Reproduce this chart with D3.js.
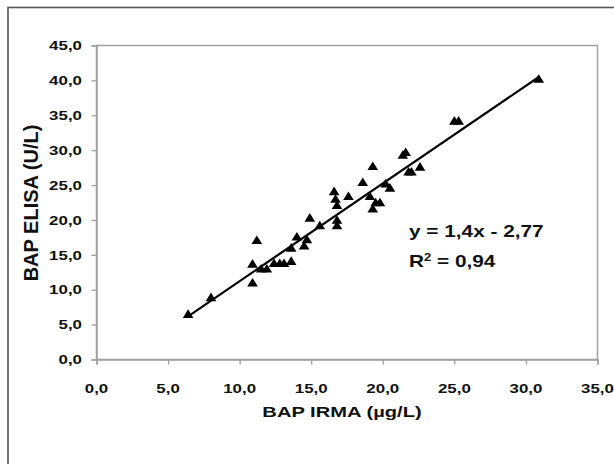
<!DOCTYPE html>
<html>
<head>
<meta charset="utf-8">
<script src="https://cdn.jsdelivr.net/npm/d3@7"></script>
<style>
  body { margin: 0; background: #fff; }
  svg { display: block; }
  text { font-family: "Liberation Sans", Arial, sans-serif; font-weight: bold; fill: #111; }
</style>
</head>
<body>
<svg width="614" height="464"></svg>
<script>
(function (d3) {
    'use strict';

    // BAP IRMA (x) vs BAP ELISA (y)
    const irma  = [6.4, 8.0, 10.9, 10.9, 11.2, 11.5, 11.9, 12.4, 12.8, 13.1,
                   13.6, 13.6, 14.0, 14.5, 14.7, 14.9, 15.6, 16.6, 16.7, 16.8,
                   16.8, 16.8, 17.6, 18.6, 19.1, 19.3, 19.3, 19.5, 19.8, 20.2,
                   20.5, 21.4, 21.6, 21.8, 22.0, 22.6, 25.0, 25.3, 30.9];
    const elisa = [6.5, 8.9, 11.0, 13.7, 17.1, 13.0, 13.0, 13.8, 13.8, 13.8,
                   14.1, 16.0, 17.6, 16.3, 17.2, 20.3, 19.2, 24.1, 23.0, 22.1,
                   19.2, 20.0, 23.4, 25.4, 23.4, 27.7, 21.6, 22.5, 22.5, 25.2,
                   24.6, 29.3, 29.7, 26.9, 26.9, 27.6, 34.2, 34.2, 40.2];
    const xTicks = [0, 5, 10, 15, 20, 25, 30, 35];
    const yTicks = [0, 5, 10, 15, 20, 25, 30, 35, 40, 45];
    const fit = { slope: 1.4, intercept: -2.77 };
    const eqLines = ['y = 1,4x - 2,77', 'R2 = 0,94'];

    const svg = d3.select('svg');
    const width = +svg.attr('width');
    const height = +svg.attr('height');
    const plot = { left: 96.5, right: 597.5, top: 45.5, bottom: 359.5 };
    const sx = 1.3; // text in the source looks stretched horizontally

    const fmt = v => d3.format('.1f')(v).replace('.', ',');

    const xScale = d3.scaleLinear().domain([0, 35]).range([plot.left, plot.right]);
    const yScale = d3.scaleLinear().domain([0, 45]).range([plot.bottom, plot.top]);

    // outer frame (right/bottom edges fall outside the picture)
    svg.append('rect')
        .attr('x', 8).attr('y', 7.5)
        .attr('width', width).attr('height', height)
        .attr('fill', 'none').attr('stroke', '#555').attr('stroke-width', 1.6);

    // plot border
    svg.append('rect')
        .attr('x', plot.left).attr('y', plot.top)
        .attr('width', plot.right - plot.left).attr('height', plot.bottom - plot.top)
        .attr('fill', 'none').attr('stroke', '#a0a0a0').attr('stroke-width', 1.5);

    const xAxis = svg.append('g')
        .attr('transform', `translate(0,${plot.bottom})`)
        .call(d3.axisBottom(xScale).tickValues(xTicks).tickSize(5).tickFormat(''));
    const yAxis = svg.append('g')
        .attr('transform', `translate(${plot.left},0)`)
        .call(d3.axisLeft(yScale).tickValues(yTicks).tickSize(5).tickFormat(''));
    [xAxis, yAxis].forEach(ax => {
        ax.select('.domain').attr('stroke', '#a0a0a0').attr('stroke-width', 1.5);
        ax.selectAll('.tick line').attr('stroke', '#a0a0a0').attr('stroke-width', 1.3);
    });

    // tick labels, stretched like the source
    svg.append('g').selectAll('text').data(xTicks).enter().append('text')
        .attr('transform', d => `translate(${xScale(d)},392.5) scale(${sx},1)`)
        .attr('text-anchor', 'middle')
        .style('font-size', '13px')
        .text(fmt);
    svg.append('g').selectAll('text').data(yTicks).enter().append('text')
        .attr('transform', d => `translate(82,${yScale(d) + 4.7}) scale(${sx},1)`)
        .attr('text-anchor', 'end')
        .style('font-size', '13px')
        .text(fmt);

    // axis titles
    svg.append('text')
        .attr('transform', `translate(342,416.5) scale(${sx},1)`)
        .attr('text-anchor', 'middle')
        .style('font-size', '15.5px')
        .text('BAP IRMA (µg/L)');
    svg.append('text')
        .attr('transform', `translate(38,203) rotate(-90)`)
        .attr('text-anchor', 'middle')
        .style('font-size', '20px')
        .text('BAP ELISA (U/L)');

    // regression line over the data range
    const xExt = d3.extent(irma);
    svg.append('line')
        .attr('x1', xScale(xExt[0])).attr('y1', yScale(fit.slope * xExt[0] + fit.intercept))
        .attr('x2', xScale(xExt[1])).attr('y2', yScale(fit.slope * xExt[1] + fit.intercept))
        .attr('stroke', '#000').attr('stroke-width', 2.2);

    // triangle markers
    const tri = (cx, cy) => `M${cx},${cy - 4.8}L${cx + 5.3},${cy + 3.8}L${cx - 5.3},${cy + 3.8}Z`;
    svg.append('g').selectAll('path').data(irma).enter().append('path')
        .attr('d', (d, i) => tri(xScale(d), yScale(elisa[i])))
        .attr('fill', '#000');

    // equation
    const eq = svg.append('g');
    eq.append('text')
        .attr('transform', `translate(409,236.5) scale(${sx},1)`)
        .style('font-size', '16px')
        .text(eqLines[0]);
    const r2 = eq.append('text')
        .attr('transform', `translate(409,267) scale(${sx},1)`)
        .style('font-size', '16px');
    r2.append('tspan').text('R');
    r2.append('tspan').attr('dy', -6.5).style('font-size', '10px').text('2');
    r2.append('tspan').attr('dy', 6.5).text(eqLines[1].slice(2));
}(d3));
</script>
</body>
</html>
